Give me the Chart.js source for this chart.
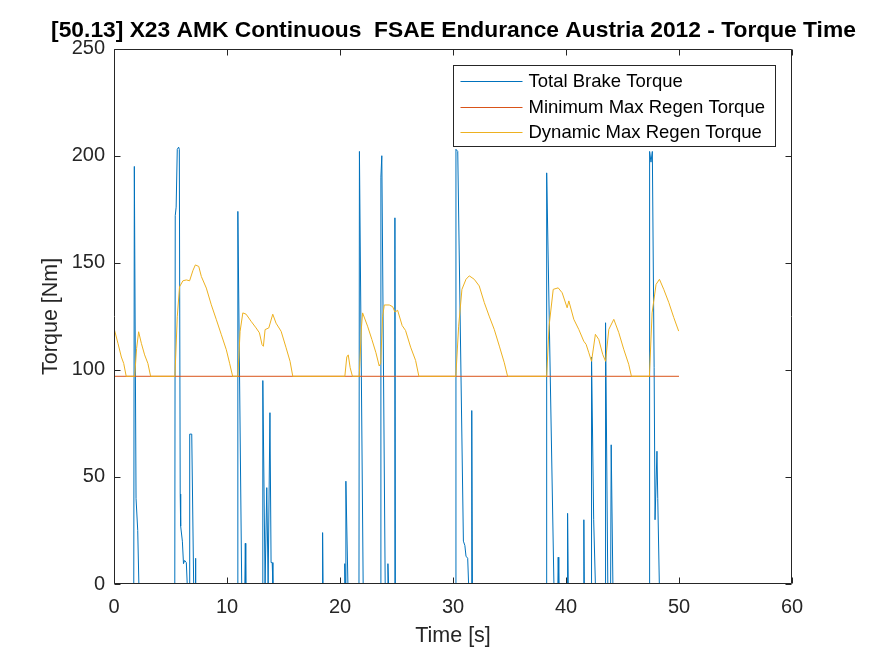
<!DOCTYPE html>
<html>
<head>
<meta charset="utf-8">
<script src="https://cdn.jsdelivr.net/npm/chart.js@4"></script>
<style>
  html, body { margin: 0; padding: 0; background: #ffffff; }
  #wrap { width: 875px; height: 656px; }
</style>
</head>
<body>
<div id="wrap"><canvas id="c" width="875" height="656"></canvas></div>
<script>
// ---------------- DATA ----------------
const chartTitle = '[50.13] X23 AMK Continuous  FSAE Endurance Austria 2012 - Torque Time';
const xAxisTitle = 'Time [s]';
const yAxisTitle = 'Torque [Nm]';
const seriesNames = ['Total Brake Torque', 'Minimum Max Regen Torque', 'Dynamic Max Regen Torque'];
const xTicks = [0, 10, 20, 30, 40, 50, 60];
const yTicks = [0, 50, 100, 150, 200, 250];

// Total Brake Torque
const brakeTime = [
  0, 1.75, 1.80, 1.95, 2.10, 2.20,
  5.38, 5.42, 5.50, 5.60, 5.72, 5.78, 5.86, 5.90, 6.05, 6.15, 6.25, 6.40, 6.48,
  6.68, 6.70, 6.88, 7.05, 7.17, 7.20, 7.25,
  10.93, 10.96, 11.30, 11.58, 11.62, 11.66,
  13.11, 13.17, 13.37, 13.52, 13.64, 13.80, 13.90, 14.00, 14.06,
  18.43, 18.46, 18.50,
  20.38, 20.42, 20.48, 20.52, 20.70,
  21.68, 21.72, 22.05,
  23.60, 23.62, 23.70, 24.00,
  24.20, 24.24, 24.30,
  24.84, 24.86, 24.90,
  30.22, 30.26, 30.42, 30.92, 31.05, 31.15, 31.30, 31.38,
  31.63, 31.66, 31.72,
  38.26, 38.29, 38.93,
  39.28, 39.31, 39.36,
  40.10, 40.14, 40.20,
  41.55, 41.58, 41.62,
  42.22, 42.26, 42.45, 42.60,
  43.47, 43.50, 43.70,
  43.95, 44.00, 44.15,
  47.36, 47.40, 47.52, 47.64, 47.80, 47.88, 48.05, 48.12, 48.26,
  50.00
];
const brakeTorque = [
  0, 0, 195, 40, 25, 0,
  0, 172, 176, 203, 204, 203, 42, 27, 20, 9.5, 11, 10, 0,
  0, 70, 70, 0, 0, 12, 0,
  0, 174, 0, 0, 19, 0,
  0, 95, 0, 45, 0, 80, 10, 10, 0,
  0, 24, 0,
  0, 9.5, 0, 48, 0,
  0, 202, 0,
  0, 190, 200, 0,
  0, 9.5, 0,
  0, 171, 0,
  0, 203, 202, 20, 18, 13, 12, 0,
  0, 81, 0,
  0, 192, 0,
  0, 12.5, 0,
  0, 33, 0,
  0, 30, 0,
  0, 106, 30, 0,
  0, 122, 0,
  0, 65, 0,
  0, 202, 197, 202, 101, 30, 62, 40, 0,
  0
];

// Minimum Max Regen Torque
const minRegenTime = [0, 50];
const minRegenTorque = [97, 97];

// Dynamic Max Regen Torque
const dynRegenTime = [
  0, 0.35, 0.65, 0.86, 1.08, 1.83, 2.00, 2.18, 2.42, 2.71, 3.00, 3.24,
  5.39, 5.60, 5.80, 6.10, 6.40, 6.69, 6.99, 7.20, 7.50, 7.73, 8.17, 8.61, 9.06, 9.50, 9.94, 10.23, 10.50,
  10.96, 11.16, 11.40, 11.69, 12.13, 12.57, 12.87, 13.10, 13.22, 13.37, 13.70, 14.05, 14.34, 14.79, 15.23, 15.58, 15.82,
  20.43, 20.60, 20.73, 20.90, 21.10,
  21.70, 21.90, 22.00, 22.44, 22.82, 23.18, 23.47, 23.60, 23.77, 23.92, 24.36, 24.66, 24.86, 25.10, 25.50, 25.80, 26.25, 26.69, 26.98,
  30.25, 30.50, 30.79, 31.15, 31.44, 31.88, 32.32, 32.77, 33.20, 33.65, 34.10, 34.54, 34.83,
  38.29, 38.50, 38.87, 39.31, 39.66, 40.10, 40.25, 40.69, 41.13, 41.57, 41.78, 42.02, 42.26, 42.60, 42.90, 43.25, 43.50, 43.79, 44.23, 44.67, 45.11, 45.55, 45.79,
  47.38, 47.62, 47.97, 48.27, 48.65, 49.10, 49.54, 49.97
];
const dynRegenTorque = [
  119.5, 112.4, 106, 103, 97, 97, 110, 117.8, 112.4, 107, 103, 97,
  97, 124.8, 138.8, 141.6, 142, 141.6, 146.5, 149, 148.3, 143.6, 138.2, 130.4, 123.4, 116.4, 109.4, 103.1, 97,
  97, 118, 126.6, 126, 122.7, 119.6, 117.3, 111.8, 111, 118.8, 119.6, 126, 121.8, 118, 110.3, 104, 97,
  97, 106, 107, 101, 97,
  97, 120, 126.6, 120.4, 114.2, 108, 101.8, 103, 124.8, 130.3, 130.3, 129.5, 127, 127.8, 120.7, 118.4, 110.6, 104.4, 97,
  97, 120.4, 137.6, 142.3, 143.9, 142.3, 139.2, 131.4, 125.1, 118.9, 111.1, 103.3, 97,
  97, 120.4, 137.6, 138.3, 136, 129, 132.2, 123.6, 118.9, 113.4, 111.9, 108, 104, 116.6, 114.2, 107.2, 104, 118.9, 123.6, 117.4, 109.6, 102.6, 97,
  97, 126.6, 139.9, 142.3, 137.6, 131.4, 124.4, 118.1
];

// ---------------- CHART ----------------
const FONT = "'Liberation Sans', Arial, Helvetica, sans-serif";
const AX = '#262626';
const COLORS = ['#0072BD', '#D95319', '#EDB120'];

function pts(xs, ys) { return xs.map((x, i) => ({ x: x, y: ys[i] })); }

const axesBoxPlugin = {
  id: 'axesBox',
  afterDatasetsDraw(chart) {
    const { ctx, chartArea: a, scales } = chart;
    const L = Math.round(a.left) + 0.5, R = Math.round(a.right) - 0.5;
    const T = Math.round(a.top) + 0.5, B = Math.round(a.bottom) - 0.5;
    const len = 6;
    ctx.save();
    ctx.strokeStyle = AX;
    ctx.lineWidth = 1;
    ctx.beginPath();
    ctx.rect(L, T, R - L, B - T);
    scales.x.ticks.forEach(t => {
      const px = Math.round(scales.x.getPixelForValue(t.value)) + 0.5;
      ctx.moveTo(px, B); ctx.lineTo(px, B - len);
      ctx.moveTo(px, T); ctx.lineTo(px, T + len);
    });
    scales.y.ticks.forEach(t => {
      const py = Math.round(scales.y.getPixelForValue(t.value)) + 0.5;
      ctx.moveTo(L, py); ctx.lineTo(L + len, py);
      ctx.moveTo(R, py); ctx.lineTo(R - len, py);
    });
    ctx.stroke();
    ctx.restore();
  }
};

const boxLegendPlugin = {
  id: 'boxLegend',
  afterDraw(chart) {
    const { ctx, chartArea: a } = chart;
    const right = Math.round(a.right) - 16.5;
    const top = Math.round(a.top) + 16.5;
    const w = 322, h = 81;
    const left = right - w;
    ctx.save();
    ctx.fillStyle = '#ffffff';
    ctx.fillRect(left, top, w, h);
    ctx.strokeStyle = AX;
    ctx.lineWidth = 1;
    ctx.strokeRect(left, top, w, h);
    ctx.font = '18.5px ' + FONT;
    ctx.textBaseline = 'middle';
    ctx.textAlign = 'left';
    chart.data.datasets.forEach((ds, i) => {
      const y = Math.round(top + 15.5 + i * 25.5) + 0.5;
      ctx.beginPath();
      ctx.strokeStyle = COLORS[i];
      ctx.lineWidth = 1;
      ctx.moveTo(left + 7, y);
      ctx.lineTo(left + 69, y);
      ctx.stroke();
      ctx.fillStyle = '#000000';
      ctx.fillText(ds.label, left + 75, y + 0.5);
    });
    ctx.restore();
  }
};

new Chart(document.getElementById('c'), {
  type: 'line',
  data: {
    datasets: [
      { label: seriesNames[0], data: pts(brakeTime, brakeTorque), borderColor: COLORS[0], borderWidth: 1, order: 3 },
      { label: seriesNames[1], data: pts(minRegenTime, minRegenTorque), borderColor: COLORS[1], borderWidth: 1, order: 2 },
      { label: seriesNames[2], data: pts(dynRegenTime, dynRegenTorque), borderColor: COLORS[2], borderWidth: 1, order: 1 }
    ]
  },
  options: {
    responsive: false,
    animation: false,
    devicePixelRatio: 1,
    events: [],
    elements: { point: { radius: 0 }, line: { tension: 0, fill: false } },
    layout: { padding: { left: 32, right: 0, top: 0, bottom: 0 } },
    plugins: {
      legend: { display: false },
      tooltip: { enabled: false },
      title: {
        display: true,
        text: chartTitle,
        fullSize: true,
        color: '#000000',
        font: { family: FONT, size: 22.8, weight: 'bold', lineHeight: 1.2 },
        padding: { top: 17.5, bottom: 3.8 }
      }
    },
    scales: {
      x: {
        type: 'linear',
        min: 0, max: 60,
        afterBuildTicks: s => { s.ticks = xTicks.map(v => ({ value: v })); },
        afterFit: s => { s.height = 72; },
        grid: { display: false, drawTicks: false },
        border: { display: false },
        ticks: { color: AX, padding: 11, maxRotation: 0, font: { family: FONT, size: 20 } },
        title: { display: true, text: xAxisTitle, color: AX, padding: { top: 0, bottom: 7.5 }, font: { family: FONT, size: 21.5, lineHeight: 1.2 } }
      },
      y: {
        type: 'linear',
        position: 'left',
        min: 0, max: 250,
        afterBuildTicks: s => { s.ticks = yTicks.map(v => ({ value: v })); },
        afterFit: s => { s.width = 82; },
        grid: { display: false, drawTicks: false },
        border: { display: false },
        ticks: { color: AX, padding: 9, font: { family: FONT, size: 20 } },
        title: { display: true, text: yAxisTitle, color: AX, padding: { top: 6, bottom: 0 }, font: { family: FONT, size: 21.5, lineHeight: 1.2 } }
      },
      yRight: {
        type: 'linear',
        position: 'right',
        min: 0, max: 250,
        afterFit: s => { s.width = 83; },
        grid: { display: false, drawTicks: false },
        border: { display: false },
        ticks: { display: false }
      }
    }
  },
  plugins: [axesBoxPlugin, boxLegendPlugin]
});
</script>
</body>
</html>
